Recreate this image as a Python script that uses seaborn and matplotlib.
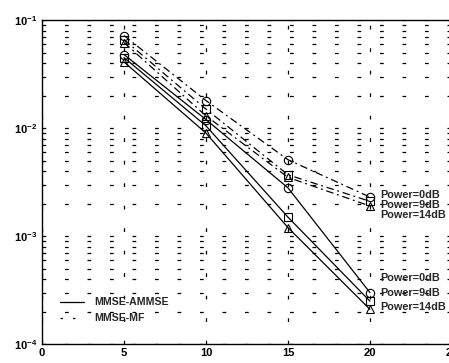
import matplotlib
matplotlib.use("Agg")
import matplotlib.pyplot as plt
import seaborn as sns
import pandas as pd
import numpy as np
from matplotlib.lines import Line2D

snr = [5, 10, 15, 20]
powers = ["0dB", "9dB", "14dB"]
ammse_0 = [0.048, 0.012, 0.0028, 0.00030]
ammse_9 = [0.045, 0.0105, 0.0015, 0.00025]
ammse_14 = [0.041, 0.0090, 0.0012, 0.00021]
mf_0 = [0.072, 0.018, 0.0051, 0.0023]
mf_9 = [0.066, 0.015, 0.0037, 0.0021]
mf_14 = [0.062, 0.013, 0.0035, 0.0019]
schemes = ["MMSE-AMMSE", "MMSE-MF"]

rows = []
for scheme, series in zip(schemes, [[ammse_0, ammse_9, ammse_14], [mf_0, mf_9, mf_14]]):
    for p, vals in zip(powers, series):
        for x, v in zip(snr, vals):
            rows.append({"snr": x, "ber": v, "scheme": scheme, "power": p})
df = pd.DataFrame(rows)

sns.set_style("white")
plt.rcParams['font.family'] = ['Liberation Sans', 'DejaVu Sans']

fig = plt.figure(figsize=(4.49, 3.63), dpi=100)
ax = fig.add_axes([0.0935, 0.052, 0.913, 0.8926])

markers = {"0dB": "o", "9dB": "s", "14dB": "^"}
for scheme in schemes:
    for p in powers:
        sub = df[(df.scheme == scheme) & (df.power == p)]
        sns.lineplot(data=sub, x="snr", y="ber", ax=ax, color="black",
                     linewidth=0.9, linestyle="-",
                     marker=markers[p], markersize=6, markerfacecolor="none",
                     markeredgecolor="black", markeredgewidth=0.8, legend=False)
        if scheme == "MMSE-MF":
            ax.lines[-1].set_dashes([6, 3, 1.5, 3])

ax.set_yscale("log")
ax.set_xlim(0, 25)
ax.set_ylim(1e-4, 1e-1)
ax.set_xticks([0, 5, 10, 15, 20, 25])
ax.set_xlabel("")
ax.set_ylabel("")

gridstyle = (0, (3, 15))
ax.grid(True, which="both", axis="y", color="black", linestyle=gridstyle, linewidth=0.9)
ax.grid(True, which="major", axis="x", color="black", linestyle=gridstyle, linewidth=0.9)
ax.set_axisbelow(True)

for s in ax.spines.values():
    s.set_color("black")
    s.set_linewidth(1.0)

ax.tick_params(axis="both", which="both", direction="in", colors="black", labelsize=8)
ax.tick_params(axis="both", which="major", length=4)
ax.tick_params(axis="y", which="minor", length=2, left=True)
ax.tick_params(axis="x", pad=3)
for lab in ax.get_xticklabels() + ax.get_yticklabels():
    lab.set_fontweight("bold")

upper_labels = [(20.6, 0.0024, "Power=0dB"), (20.6, 0.00195, "Power=9dB"), (20.6, 0.00158, "Power=14dB")]
lower_labels = [(20.6, 0.00041, "Power=0dB"), (20.6, 0.00030, "Power=9dB"), (20.6, 0.000223, "Power=14dB")]
for x, y, t in upper_labels + lower_labels:
    ax.text(x, y, t, fontsize=7.8, fontweight="bold", va="center", ha="left")

handles = [Line2D([], [], color="black", linewidth=0.9, linestyle="-"),
           Line2D([], [], color="black", linewidth=0.9, dashes=[2, 8])]
leg = ax.legend(handles, schemes, loc="lower left", bbox_to_anchor=(0.02, 0.035),
                frameon=False, handlelength=2.3, handletextpad=1.0, labelspacing=0.55,
                prop={"weight": "bold", "size": 7.6})

fig.savefig("out.png", dpi=100)
